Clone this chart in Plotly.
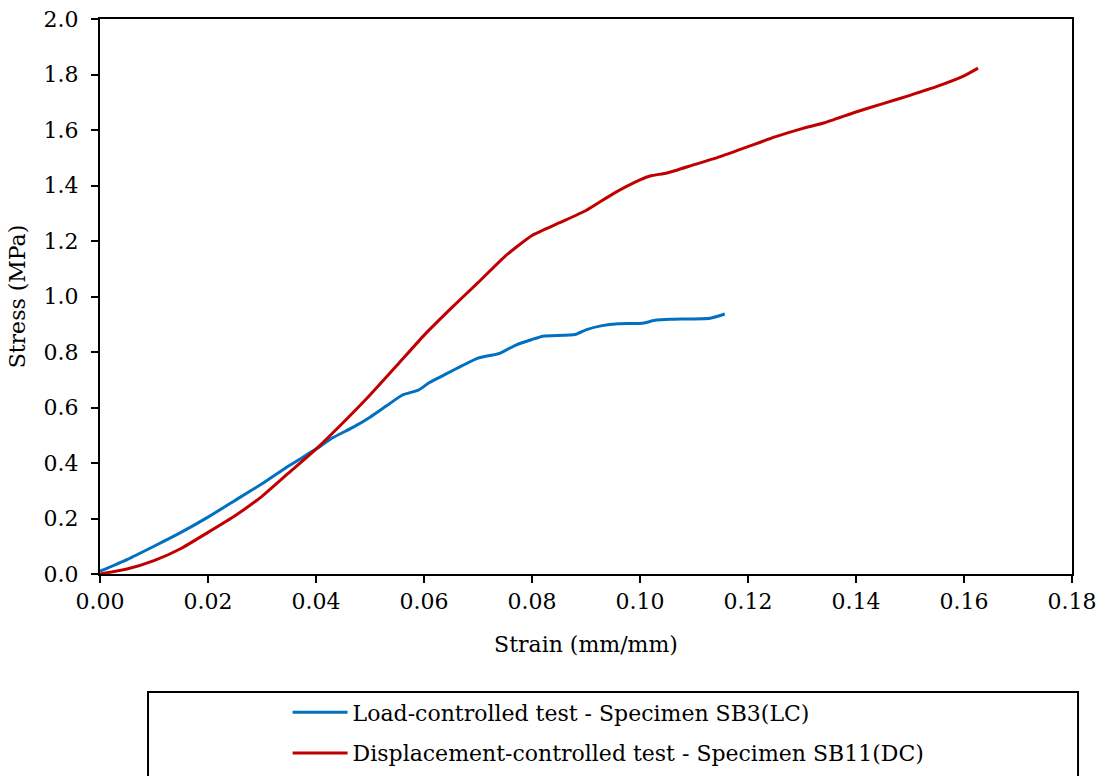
import plotly.graph_objects as go

# Load-controlled test - Specimen SB3(LC)
lc_strain = [0.000, 0.005, 0.010, 0.015, 0.020, 0.025, 0.030, 0.035, 0.040, 0.043,
             0.047, 0.050, 0.053, 0.056, 0.059, 0.061, 0.064, 0.067, 0.070, 0.074,
             0.077, 0.080, 0.082, 0.088, 0.090, 0.093, 0.096, 0.1005, 0.103, 0.106,
             0.113, 0.1157]
lc_stress = [0.010, 0.052, 0.100, 0.150, 0.205, 0.265, 0.325, 0.390, 0.450, 0.490,
             0.530, 0.565, 0.605, 0.645, 0.663, 0.690, 0.720, 0.750, 0.778, 0.795,
             0.825, 0.845, 0.857, 0.863, 0.880, 0.895, 0.902, 0.904, 0.915, 0.918,
             0.922, 0.937]

# Displacement-controlled test - Specimen SB11(DC)
dc_strain = [0.000, 0.005, 0.010, 0.015, 0.020, 0.025, 0.030, 0.035, 0.040, 0.045,
             0.050, 0.055, 0.060, 0.065, 0.070, 0.075, 0.080, 0.085, 0.090, 0.095,
             0.100, 0.102, 0.105, 0.110, 0.115, 0.120, 0.125, 0.130, 0.134, 0.140,
             0.145, 0.150, 0.155, 0.160, 0.1626]
dc_stress = [0.000, 0.018, 0.048, 0.092, 0.150, 0.210, 0.280, 0.365, 0.450, 0.545,
             0.645, 0.752, 0.860, 0.957, 1.050, 1.145, 1.220, 1.265, 1.310, 1.370,
             1.420, 1.435, 1.445, 1.475, 1.505, 1.540, 1.575, 1.605, 1.625, 1.665,
             1.695, 1.725, 1.757, 1.795, 1.823]

x_ticks = [0.00, 0.02, 0.04, 0.06, 0.08, 0.10, 0.12, 0.14, 0.16, 0.18]
y_ticks = [0.0, 0.2, 0.4, 0.6, 0.8, 1.0, 1.2, 1.4, 1.6, 1.8, 2.0]

FONT = "DejaVu Serif"
FS = 22

fig = go.Figure()
fig.add_trace(go.Scatter(x=lc_strain, y=lc_stress, mode="lines",
                         name="Load-controlled test - Specimen SB3(LC)",
                         legendgroup="a",
                         line=dict(color="#0070C0", width=3, shape="spline", smoothing=0.5)))
fig.add_trace(go.Scatter(x=dc_strain, y=dc_stress, mode="lines",
                         name="Displacement-controlled test - Specimen SB11(DC)",
                         legendgroup="b",
                         line=dict(color="#C00000", width=3, shape="spline", smoothing=0.5)))

axis_common = dict(showgrid=False, zeroline=False, showline=True, linecolor="black",
                   linewidth=2, mirror=True, ticks="outside", ticklen=7, tickwidth=2,
                   tickcolor="black", tickfont=dict(family=FONT, size=FS, color="black"))

fig.update_xaxes(range=[0, 0.18], tickvals=x_ticks, tickformat=".2f",
                 title=dict(text="Strain (mm/mm)", font=dict(family=FONT, size=FS, color="black"),
                            standoff=23),
                 **axis_common)
fig.update_yaxes(range=[0, 2.0], tickvals=y_ticks, tickformat=".1f", ticklabelstandoff=8,
                 title=dict(text="Stress (MPa)", font=dict(family=FONT, size=FS, color="black"),
                            standoff=12),
                 **axis_common)

# legend frame
fig.add_shape(type="rect", xref="paper", yref="paper",
              x0=0.0494, x1=1.0062, y0=-0.40, y1=-0.2126,
              line=dict(color="black", width=2), fillcolor="rgba(0,0,0,0)")

fig.update_layout(
    template="none",
    width=1106, height=776,
    margin=dict(l=100, r=34, t=19, b=202, autoexpand=False),
    paper_bgcolor="white", plot_bgcolor="white",
    font=dict(family=FONT, size=FS, color="black"),
    showlegend=True,
    legend=dict(orientation="v", x=0.193, xanchor="left", y=-0.2117, yanchor="top",
                bgcolor="rgba(0,0,0,0)", borderwidth=0, tracegroupgap=9, itemwidth=55,
                font=dict(family=FONT, size=FS, color="black")),
)

fig.write_html("out.html")
